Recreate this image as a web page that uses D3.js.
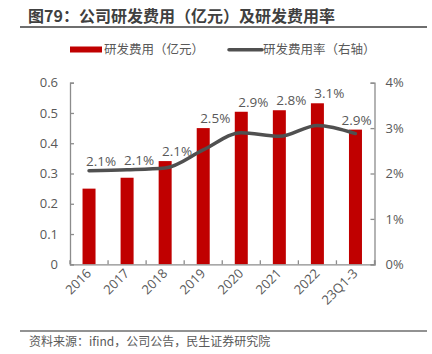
<!DOCTYPE html>
<html>
<head>
<meta charset="utf-8">
<script src="https://cdn.jsdelivr.net/npm/d3@7"></script>
<style>
  body { margin: 0; background: #fff; }
  svg { font-family: "Microsoft YaHei", "Noto Sans CJK SC", "Open Sans", sans-serif; }
</style>
</head>
<body>
<div class="chart"></div>
<script>
// data
const years = ["2016", "2017", "2018", "2019", "2020", "2021", "2022", "23Q1-3"];
const rdSpend = [0.25, 0.286, 0.341, 0.45, 0.504, 0.509, 0.532, 0.445];   // 亿元
const rdRate = [2.06, 2.08, 2.12, 2.52, 2.9, 2.82, 3.06, 2.88];          // %
const leftTicks = [0, 0.1, 0.2, 0.3, 0.4, 0.5, 0.6];
const rightTicks = [0, 1, 2, 3, 4];

const W = 432, H = 354;
const barColor = "#C00000";
const lineColor = "#505050";
const axisColor = "#8c8c8c";
const textColor = "#595959";

const svg = d3.select(".chart").append("svg")
    .attr("width", W)
    .attr("height", H);

// ---------------- title + rules ----------------
svg.append("text")
    .attr("x", 28).attr("y", 22)
    .attr("font-size", "16px").attr("font-weight", "bold")
    .attr("fill", "#404040")
    .text("图79：公司研发费用（亿元）及研发费用率");

svg.append("line")
    .attr("x1", 20).attr("x2", 427).attr("y1", 27).attr("y2", 27)
    .attr("stroke", "#6e6e6e").attr("stroke-width", 2);

svg.append("line")
    .attr("x1", 20).attr("x2", 427).attr("y1", 331).attr("y2", 331)
    .attr("stroke", "#6e6e6e").attr("stroke-width", 1.5);

svg.append("text")
    .attr("x", 29).attr("y", 346)
    .attr("font-size", "12px").attr("fill", textColor)
    .text("资料来源：ifind，公司公告，民生证券研究院");

// ---------------- legend ----------------
const legend = svg.append("g").attr("font-size", "12.5px").attr("fill", textColor);
legend.append("rect").attr("x", 70).attr("y", 46.5).attr("width", 32).attr("height", 6).attr("fill", barColor);
legend.append("text").attr("x", 104).attr("y", 54).text("研发费用（亿元）");
legend.append("line").attr("x1", 229).attr("x2", 262).attr("y1", 49.7).attr("y2", 49.7)
    .attr("stroke", lineColor).attr("stroke-width", 3.5).attr("stroke-linecap", "round");
legend.append("text").attr("x", 263).attr("y", 54).text("研发费用率（右轴）");

// ---------------- scales ----------------
const plotL = 70, plotR = 374.5, plotT = 82.7, plotB = 264.3;

const x = d3.scaleBand().domain(years).range([plotL, plotR]).padding(0);
const y = d3.scaleLinear().domain([0, 0.6]).range([plotB, plotT]);
const y2 = d3.scaleLinear().domain([0, 4]).range([plotB, plotT]);
const barW = 13;

// ---------------- bars ----------------
svg.append("g").selectAll("rect")
    .data(rdSpend)
    .join("rect")
    .attr("x", (d, i) => x(years[i]) + x.bandwidth() / 2 - barW / 2)
    .attr("y", d => y(d))
    .attr("width", barW)
    .attr("height", d => plotB - y(d))
    .attr("fill", barColor);

// ---------------- axes ----------------
const axisL = svg.append("g")
    .attr("transform", `translate(${plotL},0)`)
    .call(d3.axisRight(y).tickValues(leftTicks).tickSize(4).tickFormat(d3.format("")));
axisL.selectAll("text").attr("x", -12).attr("text-anchor", "end");

const axisR = svg.append("g")
    .attr("transform", `translate(${plotR},0)`)
    .call(d3.axisLeft(y2).tickValues(rightTicks).tickSize(4).tickFormat(d => d + "%"));
axisR.selectAll("text").attr("x", 11).attr("text-anchor", "start");

const axisB = svg.append("g")
    .attr("transform", `translate(0,${plotB})`)
    .call(d3.axisTop(x).tickSize(4).tickFormat(""));
// band ticks on category boundaries
axisB.selectAll(".tick").remove();
axisB.selectAll("line.sep")
    .data(years.concat(["end"]))
    .join("line")
    .attr("class", "sep")
    .attr("x1", (d, i) => plotL + i * x.bandwidth())
    .attr("x2", (d, i) => plotL + i * x.bandwidth())
    .attr("y1", 0).attr("y2", -4)
    .attr("stroke", axisColor);

[axisL, axisR, axisB].forEach(a => {
    a.select(".domain").attr("stroke", axisColor).attr("stroke-width", 1.3);
    a.selectAll("line").attr("stroke", axisColor).attr("stroke-width", 1.3);
    a.selectAll("text").attr("fill", textColor).attr("font-size", "13px")
        .attr("font-family", "'Open Sans', 'Noto Sans', sans-serif");
});

// rotated category labels
svg.append("g").selectAll("text")
    .data(years)
    .join("text")
    .attr("transform", d => `translate(${x(d) + x.bandwidth() / 2 + 3},${plotB + 10}) rotate(-45)`)
    .attr("text-anchor", "end")
    .attr("font-size", "13px")
    .attr("font-family", "'Open Sans', 'Noto Sans', sans-serif")
    .attr("fill", textColor)
    .text(d => d);

// ---------------- rate line ----------------
const line = d3.line()
    .x((d, i) => x(years[i]) + x.bandwidth() / 2)
    .y(d => y2(d))
    .curve(d3.curveMonotoneX);

svg.append("path")
    .datum(rdRate)
    .attr("d", line)
    .attr("fill", "none")
    .attr("stroke", lineColor)
    .attr("stroke-width", 3.5)
    .attr("stroke-linecap", "round");

// ---------------- rate labels ----------------
svg.append("g").selectAll("text")
    .data(rdRate)
    .join("text")
    .attr("x", (d, i) => Math.min(x(years[i]) + x.bandwidth() / 2 + 12, plotR - 18))
    .attr("y", (d, i) => Math.min(y(rdSpend[i]), y2(d)) - 10 + 5)
    .attr("text-anchor", "middle")
    .attr("font-size", "13.5px")
    .attr("font-family", "'Open Sans', 'Noto Sans', sans-serif")
    .attr("fill", textColor)
    .text(d => d.toFixed(1) + "%");
</script>
</body>
</html>
